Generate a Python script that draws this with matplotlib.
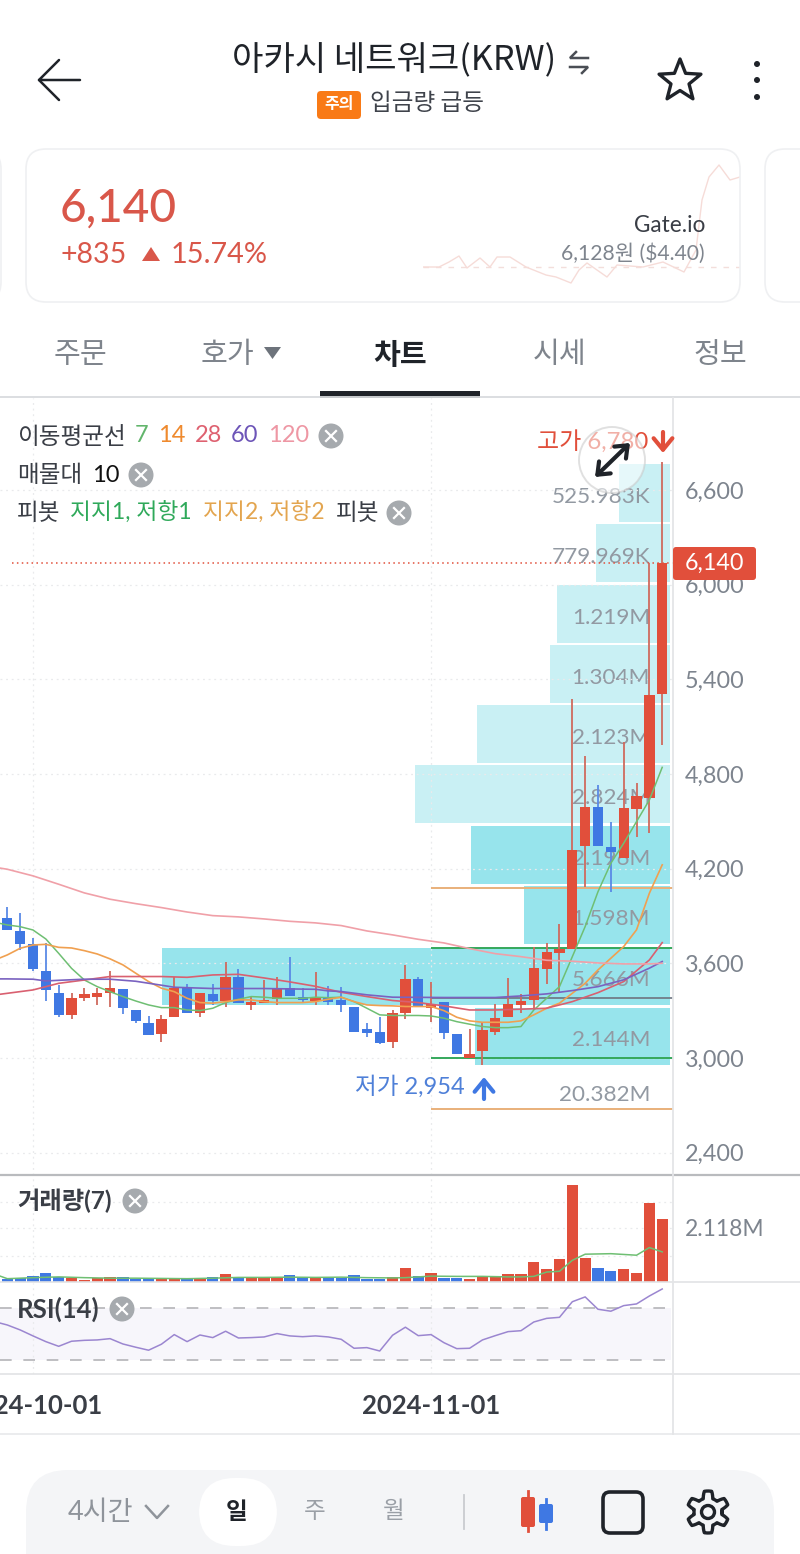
import matplotlib
matplotlib.use('Agg')
import matplotlib.pyplot as plt
from matplotlib.patches import Circle, FancyBboxPatch, Polygon
import numpy as np

plt.rcParams['font.family'] = ['Lato', 'Noto Sans CJK KR', 'DejaVu Sans']
FONT_KR = ['Noto Sans CJK KR', 'DejaVu Sans']

# candles, day 0 = 2024-10-01
days = list(range(-2, 50))
opens = [3885, 3805, 3720, 3554, 3410, 3275, 3380, 3387, 3410, 3437, 3304, 3220, 3154, 3258, 3446, 3283, 3408, 3361,
         3516, 3336, 3347, 3374, 3442, 3389, 3363, 3380, 3368, 3326, 3182, 3167, 3104, 3283, 3499, 3315, 3353, 3152,
         3002, 3045, 3167, 3258, 3336, 3368, 3564, 3664, 3691, 4344, 4593, 4335, 4270, 4578, 4647, 5305]
closes = [3811, 3723, 3562, 3429, 3275, 3382, 3406, 3414, 3442, 3319, 3232, 3144, 3249, 3446, 3283, 3414, 3361, 3516,
          3351, 3357, 3368, 3437, 3395, 3368, 3389, 3357, 3336, 3167, 3157, 3097, 3283, 3499, 3321, 3340, 3161, 3026,
          3026, 3178, 3256, 3340, 3361, 3573, 3670, 3691, 4319, 4593, 4344, 4304, 4583, 4663, 5298, 6140]
highs = [3959, 3917, 3758, 3727, 3463, 3410, 3442, 3442, 3551, 3437, 3304, 3268, 3273, 3516, 3469, 3414, 3469, 3606,
         3562, 3389, 3494, 3516, 3638, 3442, 3543, 3456, 3452, 3326, 3220, 3258, 3304, 3590, 3516, 3484, 3353, 3152,
         3182, 3220, 3340, 3505, 3404, 3702, 3731, 3850, 5275, 4914, 4731, 4498, 5005, 4745, 6135, 6780]
lows = [3811, 3685, 3554, 3361, 3262, 3247, 3361, 3336, 3321, 3277, 3224, 3144, 3104, 3258, 3283, 3258, 3336, 3325,
        3351, 3304, 3347, 3336, 3395, 3347, 3336, 3336, 3294, 3167, 3135, 3089, 3062, 3245, 3321, 3230, 3119, 3026,
        3002, 2954, 3146, 3258, 3283, 3304, 3469, 3410, 3691, 4082, 4344, 4054, 4270, 4403, 4424, 4985]
volumes = [.106, .145, .247, .353, .184, .157, .09, .145, .196, .184, .129, .129, .129, .157, .129, .129, .196, .314,
           .157, .157, .184, .169, .274, .184, .196, .169, .169, .263, .118, .129, .196, .549, .235, .353, .169, .145,
           .129, .184, .247, .325, .325, .772, .498, .902, 3.815, .953, .549, .419, .521, .365, 3.109, 2.458]

ma_days = list(range(-3, 50))
ma7 = [3860, 3843, 3832, 3811, 3754, 3663, 3568, 3494, 3452, 3420, 3389, 3361, 3336, 3319, 3319, 3304, 3300, 3315,
       3351, 3372, 3389, 3385, 3378, 3378, 3378, 3385, 3382, 3385, 3357, 3315, 3273, 3269, 3269, 3269, 3266, 3252,
       3230, 3214, 3199, 3192, 3192, 3199, 3304, 3378, 3452, 3642, 3833, 4054, 4234, 4361, 4498, 4635, 4842]
ma14 = [3620, 3653, 3695, 3716, 3720, 3701, 3697, 3680, 3659, 3628, 3590, 3537, 3484, 3442, 3420, 3378, 3351, 3347,
        3357, 3368, 3368, 3357, 3351, 3351, 3351, 3357, 3372, 3385, 3357, 3336, 3332, 3330, 3326, 3326, 3326, 3300,
        3258, 3235, 3226, 3226, 3226, 3235, 3273, 3315, 3347, 3410, 3473, 3558, 3632, 3706, 3812, 4044, 4224]
ma28_days = [-3, 0, 1, 2, 4, 6, 8, 10, 12, 14, 16, 18, 20, 22, 24, 26, 28, 30, 32, 34, 36, 38, 40, 42, 44, 46, 48, 49]
ma28 = [3399, 3431, 3452, 3473, 3494, 3516, 3516, 3516, 3511, 3526, 3530, 3507, 3482, 3454, 3416, 3389, 3364, 3351,
        3330, 3304, 3304, 3309, 3315, 3357, 3414, 3484, 3621, 3731]
ma60_days = [-3, -2, 0, 1, 2, 4, 6, 8, 10, 11, 14, 18, 22, 23, 24, 26, 28, 32, 36, 38, 40, 42, 44, 46, 48, 49]
ma60 = [3501, 3501, 3499, 3488, 3492, 3499, 3499, 3486, 3461, 3448, 3440, 3440, 3435, 3425, 3421, 3400, 3385, 3383,
        3383, 3393, 3406, 3427, 3452, 3495, 3569, 3611]
ma120_days = [-3, -2, 0, 2, 4, 6, 8, 10, 12, 14, 16, 18, 20, 22, 24, 26, 28, 30, 32, 34, 36, 38, 40, 42, 44, 46, 48, 49]
ma120 = [4209, 4196, 4154, 4101, 4046, 4006, 3978, 3953, 3925, 3902, 3894, 3881, 3866, 3856, 3839, 3805, 3780, 3752,
         3729, 3693, 3661, 3642, 3619, 3613, 3602, 3596, 3596, 3600]

# volume profile
profile_tops = [6765, 6385, 5999, 5619, 5237, 4857, 4471, 4090, 3699, 3319]
profile_bottoms = [6397, 6017, 5630, 5250, 4870, 4489, 4103, 3722, 3336, 2956]
profile_vols = [.525983, .779969, 1.219, 1.304, 2.123, 2.824, 2.196, 1.598, 5.666, 2.144]
profile_labels = ['525.983K', '779.969K', '1.219M', '1.304M', '2.123M', '2.824M', '2.196M', '1.598M', '5.666M', '2.144M']
profile_dark = [False, False, False, False, False, False, True, True, True, True]

vol_ma_days = [-3, -2, 0, 2, 4, 6, 8, 10, 12, 14, 16, 18, 20, 22, 24, 26, 28, 29, 31, 33, 35, 37, 38, 39, 40, 41, 42,
               43, 45, 47, 48, 49]
vol_ma = [.31, .13, .17, .20, .17, .15, .15, .14, .13, .15, .18, .18, .19, .18, .19, .17, .16, .17, .23, .22, .22,
          .20, .20, .22, .39, .42, .85, 1.09, 1.11, 1.05, 1.35, 1.18]

rsi_days = list(range(-3, 50))
rsi = [59.5, 56.9, 53.1, 48.5, 44.1, 40.5, 44.4, 45.1, 45.4, 46.4, 42.3, 39.8, 37.5, 42.1, 49.5, 44.1, 49.2, 47.2, 52.1,
       46.9, 47.2, 47.7, 50.3, 48.5, 47.9, 48.5, 47.7, 45.9, 39.0, 39.5, 36.9, 49.0, 55.2, 48.7, 49.5, 43.3, 38.7, 39.0,
       45.4, 48.7, 51.8, 52.5, 59.2, 62.0, 62.8, 74.8, 78.5, 69.0, 67.5, 71.8, 73.1, 79.2, 84.6]

price_ticks = [6600, 6000, 5400, 4800, 4200, 3600, 3000, 2400]
price_tick_labels = ['6,600', '6,000', '5,400', '4,800', '4,200', '3,600', '3,000', '2,400']
date_ticks = [0, 31]
date_labels = ['2024-10-01', '2024-11-01']

pivot_green = [3695, 2997]
pivot_orange = [4080, 2677]
pivot_mid = 3378
last_price = 6140

spark_x = [0, 16, 26, 36, 44, 57, 67, 74, 87, 103, 123, 133, 148, 156, 164, 174, 184, 194, 220, 240, 261, 273, 279, 286,
           296, 307, 317]
spark_vals = [33, 33, 38, 44, 32, 42, 33, 43, 43, 33, 25, 23, 17, 30, 37, 30, 23, 35, 33, 38, 28, 50, 100, 123, 135, 120, 123]

RED = '#e14f3b'
BLUE = '#3f78e3'
WICK_RED = '#cf6a5e'
WICK_BLUE = '#5a8ae6'
GREY = '#7d848e'
DARK = '#3a3e46'
INK = '#1f2329'
GRID = '#e9eaec'
W, H = 800, 1554
plt.rcParams['axes.unicode_minus'] = False

fig = plt.figure(figsize=(8, 15.54), dpi=100, facecolor='white')


def add_ax(x0, y0, x1, y1, z):
    a = fig.add_axes([x0 / W, 1 - y1 / H, (x1 - x0) / W, (y1 - y0) / H], zorder=z)
    a.patch.set_alpha(0)
    for s in a.spines.values():
        s.set_visible(False)
    return a


xlim = (-2.57, 49.84)
ylim = (2258, 7183)

# volume profile sits under the candles in its own axes
ax_vp = add_ax(0, 398, 673, 1175, 1)
ax_vp.set_xlim(7.49, -0.081)
ax_vp.set_ylim(*ylim)
ax_vp.axis('off')
for top, bottom, vol, name, dark in zip(profile_tops, profile_bottoms, profile_vols, profile_labels, profile_dark):
    ax_vp.barh((top + bottom) / 2, vol + 0.047, height=top - bottom, left=-0.047, color='#97e4ec' if dark else '#c9f0f4', lw=0)
    ax_vp.text(0.178, (top + bottom) / 2 - 25, name, ha='right', va='center', color='#9299a2', fontsize=16.2)
ax_vp.text(0.178, 2765, '20.382M', ha='right', va='center', color='#9299a2', fontsize=16.2)

# price panel
ax = add_ax(0, 398, 673, 1175, 2)
ax.set_xlim(*xlim)
ax.set_ylim(*ylim)
ax.yaxis.tick_right()
ax.set_yticks(price_ticks)
ax.set_yticklabels(price_tick_labels, color=GREY, fontsize=16.8)
ax.tick_params(axis='y', length=0, pad=8.5)
ax.set_xticks([])
for t in price_ticks:
    ax.axhline(t, color=GRID, lw=0.9, ls=(0, (1.5, 3)), zorder=0)
for t in date_ticks:
    ax.axvline(t, color=GRID, lw=0.9, ls=(0, (1.5, 3)), zorder=0)

ax.hlines(pivot_green, 31, 49.84, color='#35a85c', lw=1.4, zorder=2)
ax.hlines(pivot_orange, 31, 49.84, color='#e9b07a', lw=1.4, zorder=2)
ax.hlines(pivot_mid, 31, 49.84, color='#6d7480', lw=1.2, zorder=2)
ax.hlines(last_price, -1.65, 49.84, color=RED, lw=1.1, ls=(0, (1, 2.2)), zorder=2)

colors = [RED if c >= o else BLUE for o, c in zip(opens, closes)]
wick_colors = [WICK_RED if c >= o else WICK_BLUE for o, c in zip(opens, closes)]
ax.vlines(days, lows, highs, colors=wick_colors, lw=1.3, zorder=3)
ax.bar(days, np.abs(np.array(closes) - np.array(opens)), bottom=np.minimum(opens, closes), width=0.8, color=colors,
       lw=0, zorder=3)

ax.plot(ma_days, ma7, color='#6fbf73', lw=1.1, zorder=4)
ax.plot(ma_days, ma14, color='#f0a050', lw=1.2, zorder=4)
ax.plot(ma28_days, ma28, color='#d96070', lw=1.2, zorder=4)
ax.plot(ma60_days, ma60, color='#7a62c0', lw=1.2, zorder=4)
ax.plot(ma120_days, ma120, color='#f0a0a8', lw=1.2, zorder=4)

# volume panel
ax_v = add_ax(0, 1176, 673, 1282, 2)
ax_v.set_xlim(*xlim)
ax_v.set_ylim(0, 106 * 0.0392)
ax_v.set_xticks([])
ax_v.yaxis.tick_right()
ax_v.set_yticks([2.118])
ax_v.set_yticklabels(['2.118M'], color=GREY, fontsize=16.5)
ax_v.tick_params(axis='y', length=0, pad=8.5)
for t in [1.0, 2.118, 3.14]:
    ax_v.axhline(t, color=GRID, lw=0.9, ls=(0, (1.5, 3)), zorder=0)
for t in date_ticks:
    ax_v.axvline(t, color=GRID, lw=0.9, ls=(0, (1.5, 3)), zorder=0)
ax_v.bar(days, volumes, width=0.88, color=colors, lw=0, zorder=2)
ax_v.plot(vol_ma_days, vol_ma, color='#6fbf73', lw=1.1, zorder=3)

# rsi panel
ax_r = add_ax(0, 1283, 673, 1374, 2)
ax_r.set_xlim(*xlim)
ax_r.set_ylim(19.2, 89.2)
ax_r.set_yticks([])
ax_r.axhspan(30, 70, xmin=0, xmax=0.997, color='#f7f6fb', lw=0, zorder=0)
ax_r.hlines([30, 70], xlim[0], 49.7, color='#b4b4b8', lw=1.2, ls=(0, (7, 7)), zorder=1)
for t in date_ticks:
    ax_r.axvline(t, color=GRID, lw=0.9, ls=(0, (1.5, 3)), zorder=0)
ax_r.plot(rsi_days, rsi, color='#9b86d0', lw=1.1, zorder=3)
ax_r.set_xticks(date_ticks)
ax_r.set_xticklabels(date_labels, color=DARK, fontsize=18.5, fontweight='bold')
ax_r.tick_params(axis='x', length=0, pad=14.5)

# card sparkline
ax_s = add_ax(423, 160, 740, 290, 3)
ax_s.axis('off')
ax_s.set_xlim(0, 317)
ax_s.set_ylim(10, 140)
ax_s.hlines(33, 0, 317, color='#f3dedb', lw=1, ls=(0, (4, 5)))
ax_s.plot(spark_x, spark_vals, color='#f6dcd8', lw=1)

# app chrome over everything, in pixel coordinates
ui = add_ax(0, 0, W, H, 5)
ui.set_xlim(0, W)
ui.set_ylim(H, 0)
ui.axis('off')


def box(x0, y0, x1, y1, r, z=1, **kw):
    ui.add_patch(FancyBboxPatch((x0, y0), x1 - x0, y1 - y0, boxstyle='round,pad=0,rounding_size=%s' % r, zorder=z, **kw))


def badge(x, y):
    ui.add_patch(Circle((x, y), 12.5, color='#a6aaae', lw=0))
    ui.plot([x - 5, x + 5], [y - 5, y + 5], color='white', lw=1.6)
    ui.plot([x - 5, x + 5], [y + 5, y - 5], color='white', lw=1.6)


def label(x, y, s, color=DARK, size=17, ha='left', **kw):
    ui.text(x, y, s, color=color, fontsize=size, ha=ha, va='center', **kw)


def arrow(x0, y0, x1, y1, color, style='->,head_width=0.45,head_length=0.55', lw=3, z=3):
    ui.annotate('', xy=(x1, y1), xytext=(x0, y0), zorder=z,
                arrowprops=dict(arrowstyle=style, color=color, lw=lw, shrinkA=0, shrinkB=0, mutation_scale=15))


# rules
ui.plot([0, W], [397, 397], color='#d9dbde', lw=1.3)
ui.plot([0, W], [1175, 1175], color='#b9bbbe', lw=1.6)
ui.plot([0, W], [1282, 1282], color='#e2e3e5', lw=1.2)
ui.plot([0, W], [1374, 1374], color='#e2e3e5', lw=1.2)
ui.plot([0, W], [1434, 1434], color='#e8e9eb', lw=1.2)
ui.plot([673, 673], [398, 1434], color='#e4e5e7', lw=1.3)

# header
ui.plot([80, 39, 59], [80, 80, 60], color=INK, lw=1.8, solid_capstyle='round')
ui.plot([39, 59], [80, 100], color=INK, lw=1.8, solid_capstyle='round')
label(394.5, 61, '아카시 네트워크(KRW)', color=INK, size=24.6, ha='center', family=FONT_KR)
ui.plot([576, 570, 588], [52, 58, 58], color='#4a4e55', lw=1.8, solid_joinstyle='miter')
ui.plot([570, 588, 582], [67, 67, 73], color='#4a4e55', lw=1.8, solid_joinstyle='miter')
box(317, 91, 361, 119, 4, facecolor='#f97a16', lw=0)
label(339, 104, '주의', color='white', size=11.5, ha='center', family=FONT_KR, fontweight='bold')
label(370, 104, '입금량 급등', color='#3f434b', size=17, family=FONT_KR)
ang = np.pi / 2 + np.arange(10) * np.pi / 5
rad = np.where(np.arange(10) % 2 == 0, 22, 9.5)
ui.add_patch(Polygon(np.c_[680 + rad * np.cos(ang), 81 - rad * np.sin(ang)], fill=False, ec=INK, lw=2.4, joinstyle='round'))
for yy in [64, 80, 97]:
    ui.add_patch(Circle((757, yy), 3, color=INK, lw=0))

# price card
box(26, 149, 740, 302, 20, z=0, facecolor='none', edgecolor='#eff0f2', lw=1.2)
box(765, 149, 840, 302, 20, z=0, facecolor='none', edgecolor='#eff0f2', lw=1.2)
box(-60, 149, 1, 302, 20, z=0, facecolor='none', edgecolor='#eff0f2', lw=1.2)
label(60, 209, '6,140', color='#d9574a', size=33, fontweight='medium')
label(60, 255, '+835', color='#d9574a', size=20.5)
ui.add_patch(Polygon([[142, 261], [160, 261], [151, 247]], color='#d9574a', lw=0))
label(171, 255, '15.74%', color='#d9574a', size=20.8)
label(705, 226, 'Gate.io', color='#3a3e46', size=16.3, ha='right')
label(705, 254, '6,128원 ($4.40)', color='#7f858e', size=15.2, ha='right')

# tabs
tab_x = [80, 227, 400, 560, 720]
tab_names = ['주문', '호가', '차트', '시세', '정보']
for tx, name in zip(tab_x, tab_names):
    if name == '차트':
        label(tx, 355, name, color=INK, size=21, ha='center', family=FONT_KR, fontweight='bold')
    else:
        label(tx, 355, name, color='#7e848c', size=21, ha='center', family=FONT_KR)
ui.add_patch(Polygon([[264, 347], [281, 347], [272.5, 359]], color='#6d737b', lw=0))
ui.fill_between([320, 480], 391, 398, color=INK, lw=0)

# legends
label(17, 437, '이동평균선', family=FONT_KR)
label(135, 436, '7', color='#62b56c')
label(158, 436, '14', color='#ef8a2e')
label(195, 436, '28', color='#de6170')
label(231, 436, '60', color='#6d55b8')
label(268, 436, '120', color='#ee97a4')
badge(331, 436)
label(17, 476, '매물대', family=FONT_KR)
label(92, 475, '10', color='#111111')
badge(141, 475)
label(17, 514, '피봇', family=FONT_KR)
label(70, 513, '지지1, 저항1', color='#2fa95a', size=16.4)
label(203, 513, '지지2, 저항2', color='#e3a54f', size=16.4)
label(336, 514, '피봇', family=FONT_KR)
badge(399, 513)
label(17, 1201, '거래량(7)', size=17.5, fontweight='bold')
badge(135, 1201)
label(17, 1309, 'RSI(14)', size=18.5, fontweight='bold')
badge(122, 1309)

# high / low labels
label(648, 441, '고가 6,780', color=RED, size=17.3, ha='right')
arrow(663, 432, 663, 453, RED)
label(465, 1087, '저가 2,954', color='#4f80d8', size=17, ha='right')
arrow(484, 1099, 484, 1077, BLUE)

# last price tag
box(673, 547, 756, 580, 3, z=6, facecolor=RED, lw=0)
label(714.5, 563.5, '6,140', color='white', size=16.8, ha='center', zorder=7)

# resize button
ui.add_patch(Circle((612, 460), 33, facecolor='white', alpha=0.55, edgecolor='#c8c8c8', lw=1.4, zorder=8))
arrow(595, 477, 630, 443, INK, style='<->,head_width=0.4,head_length=0.5', z=9)

# bottom bar
box(26, 1470, 774, 1600, 42, facecolor='#f4f5f7', lw=0)
box(199, 1478, 277, 1546, 36, z=2, facecolor='white', lw=0)
label(68, 1512, '4시간', color='#8f949b', size=19.5, zorder=3)
ui.plot([146, 157, 168], [1506, 1518, 1506], color='#8f949b', lw=1.8, zorder=3)
label(237, 1512, '일', color=INK, size=17, ha='center', family=FONT_KR, fontweight='bold', zorder=3)
label(315, 1512, '주', color='#9a9fa6', size=17, ha='center', family=FONT_KR, zorder=3)
label(394, 1512, '월', color='#9a9fa6', size=17, ha='center', family=FONT_KR, zorder=3)
ui.plot([464, 464], [1495, 1529], color='#c9ccd0', lw=1.3, zorder=3)
ui.plot([528, 528], [1491, 1531], color=RED, lw=2, zorder=3)
box(521, 1497, 535, 1527, 2, z=3, facecolor=RED, lw=0)
ui.plot([546, 546], [1499, 1529], color=BLUE, lw=2, zorder=3)
box(539, 1504, 553, 1523, 2, z=3, facecolor=BLUE, lw=0)
box(603, 1492, 643, 1533, 7, z=3, facecolor='none', edgecolor=INK, lw=2.6)
t = np.linspace(0, 2 * np.pi, 361)
r = 17.5 + 3.5 * np.clip(2 * np.cos(6 * (t - np.pi / 2)), -1, 1)
ui.plot(708 + r * np.cos(t), 1512 + r * np.sin(t), color=INK, lw=2.4, zorder=3)
ui.add_patch(Circle((708, 1512), 6.5, fill=False, ec=INK, lw=2.4, zorder=3))

fig.savefig('out.png', dpi=100)
